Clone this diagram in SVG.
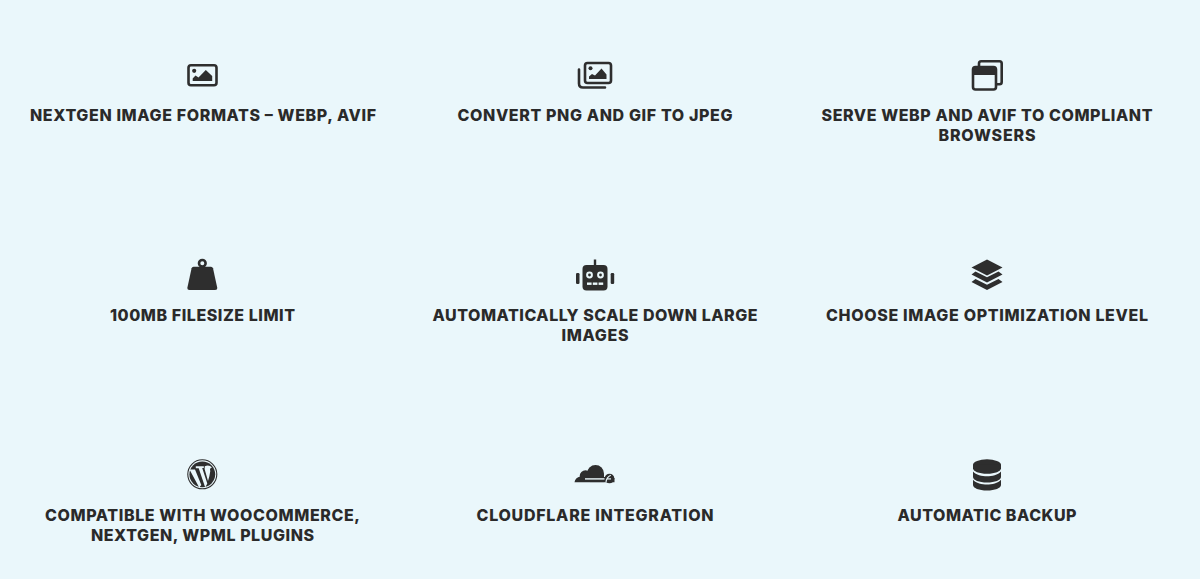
<svg xmlns="http://www.w3.org/2000/svg" width="1200" height="579" viewBox="0 0 1200 579">
<style>
.bg{fill:#eaf7fb}
text{font-family:Inter,"Liberation Sans",Arial,sans-serif;font-weight:800;font-size:16px;fill:#2a2a2a;text-anchor:middle}
.f{fill:#2e2e2e}
.s{fill:none;stroke:#2e2e2e;stroke-width:2.6}
.c{fill:#eaf7fb}
.l{fill:none;stroke:#eaf7fb}
</style>
<rect class="bg" width="1200" height="579"/>
<g id="connectors"/>
<g id="node-nextgen">
<rect class="s" x="188.500" y="65.300" width="28" height="20" rx="2.500"/>
<circle class="f" cx="194.200" cy="70.800" r="2.100"/>
<path class="f" d="M192.700 81V78.400L195.500 75.500L198.500 77.500L205.800 70L212.200 76V81Z"/>
<text x="203" y="121" textLength="346" lengthAdjust="spacing">NEXTGEN IMAGE FORMATS – WEBP, AVIF</text>
</g>
<g id="node-convert">
<rect class="s" x="585" y="63" width="26" height="20" rx="2.500"/>
<path class="s" stroke-linecap="round" d="M579 69.500V83.500Q579 87.500 583 87.500H605"/>
<circle class="f" cx="590.500" cy="68.200" r="2"/>
<path class="f" d="M589 79V76.600L592 74L595 75.600L601.500 68.500L606.500 74.500V79Z"/>
<text x="595" y="121" textLength="275" lengthAdjust="spacing">CONVERT PNG AND GIF TO JPEG</text>
</g>
<g id="node-serve">
<path class="s" stroke-linejoin="round" d="M979 67V63.500Q979 61.300 981.200 61.300H999.500Q1001.700 61.300 1001.700 63.500V82Q1001.700 84.200 999.500 84.200H996"/>
<rect class="s" x="973" y="67" width="23" height="22.500" rx="2.500"/>
<path class="f" d="M973 69.500Q973 67 975.500 67H993.500Q996 67 996 69.500V75H973Z"/>
<text x="987" y="121" textLength="331" lengthAdjust="spacing">SERVE WEBP AND AVIF TO COMPLIANT</text>
<text x="987" y="141" textLength="97" lengthAdjust="spacing">BROWSERS</text>
</g>
<g id="node-filesize">
<circle class="s" cx="202.300" cy="263.300" r="3.300"/>
<path class="f" d="M193.500 266.800H211Q212.500 266.800 213 268.300L217.200 287.500Q217.500 290 215 290H189.600Q187.100 290 187.400 287.500L191.600 268.300Q192 266.800 193.500 266.800Z"/>
<text x="202.500" y="321" textLength="185" lengthAdjust="spacing">100MB FILESIZE LIMIT</text>
</g>
<g id="node-scale">
<rect class="f" x="593.800" y="259.500" width="2.400" height="7"/>
<rect class="f" x="582.500" y="265" width="25" height="25.500" rx="4"/>
<rect class="f" x="576" y="273" width="3.500" height="11" rx="1.200"/>
<rect class="f" x="610.700" y="273" width="3.500" height="11" rx="1.200"/>
<circle class="c" cx="589.500" cy="275" r="3.400"/><circle class="f" cx="589.500" cy="275" r="1.400"/>
<circle class="c" cx="600.500" cy="275" r="3.400"/><circle class="f" cx="600.500" cy="275" r="1.400"/>
<rect class="c" x="587" y="282.500" width="4.600" height="2.400"/><rect class="c" x="592.800" y="282.500" width="4.600" height="2.400"/><rect class="c" x="598.600" y="282.500" width="4.600" height="2.400"/>
<text x="595" y="321" textLength="325" lengthAdjust="spacing">AUTOMATICALLY SCALE DOWN LARGE</text>
<text x="595" y="341" textLength="67" lengthAdjust="spacing">IMAGES</text>
</g>
<g id="node-level">
<path class="f" d="M987 259.500L1002.500 267.500L987 275.500L971.500 267.500Z"/>
<path class="f" d="M975.500 271.500L987 277.300L998.500 271.500L1002.500 274.500L987 282.500L971.500 274.500Z"/>
<path class="f" d="M975.500 279L987 284.800L998.500 279L1002.500 282L987 290L971.500 282Z"/>
<text x="987" y="321" textLength="322" lengthAdjust="spacing">CHOOSE IMAGE OPTIMIZATION LEVEL</text>
</g>
<g id="node-woocommerce">
<circle cx="202.300" cy="474.300" r="14.500" fill="none" stroke="#2e2e2e" stroke-width="1.100"/>
<circle class="f" cx="202.300" cy="474.300" r="12.900"/>
<path class="c" d="M189.500 469.500H195L201.300 485L199.200 487.500ZM195.800 466.300H203.800V468H202.200L207.300 483.500L205.200 487.500L198.700 468.300H195.800ZM204.800 466.300Q209 464.300 212 467.500Q209.200 468 210.300 471L209.300 476.500L208 481L204.600 469Z"/>
<text x="202.500" y="521" textLength="315" lengthAdjust="spacing">COMPATIBLE WITH WOOCOMMERCE,</text>
<text x="202.500" y="541" textLength="223" lengthAdjust="spacing">NEXTGEN, WPML PLUGINS</text>
</g>
<g id="node-cloudflare">
<circle class="f" cx="595.500" cy="473.500" r="8.500"/>
<circle class="f" cx="585.500" cy="476" r="5.800"/>
<path class="f" d="M574.500 482.300Q575 477.500 580.500 476.500L590 476V482.300Z"/>
<path class="f" d="M590 474H604V482.300H590Z"/>
<circle class="f" cx="609.500" cy="478.500" r="4.800"/>
<path class="f" d="M604 482.300V477H610V482.300Z M610 482.300V478H614.500V482.300Z"/>
<path class="l" stroke-width="1.400" d="M585 478.900H604.500"/>
<path class="l" stroke-width="1.100" d="M606 482.300Q606.500 477 610.800 475.300"/>
<path class="l" stroke-width="1.200" d="M607 478.900H611"/>
<text x="595" y="521" textLength="237" lengthAdjust="spacing">CLOUDFLARE INTEGRATION</text>
</g>
<g id="node-backup">
<ellipse class="f" cx="987" cy="464.800" rx="14" ry="5.500"/>
<path class="f" d="M973 464.800V468.300C973 471.300 979 473.800 987 473.800S1001 471.300 1001 468.300V464.800Z"/>
<path class="f" d="M973 471.500V477C973 480 979 482.500 987 482.500S1001 480 1001 477V471.500C998 475 992 476.300 987 476.300S976 475 973 471.500Z"/>
<path class="f" d="M973 479.800V485C973 488 979 490.500 987 490.500S1001 488 1001 485V479.800C998 483.300 992 484.600 987 484.600S976 483.300 973 479.800Z"/>
<text x="987" y="521" textLength="179" lengthAdjust="spacing">AUTOMATIC BACKUP</text>
</g>
</svg>
